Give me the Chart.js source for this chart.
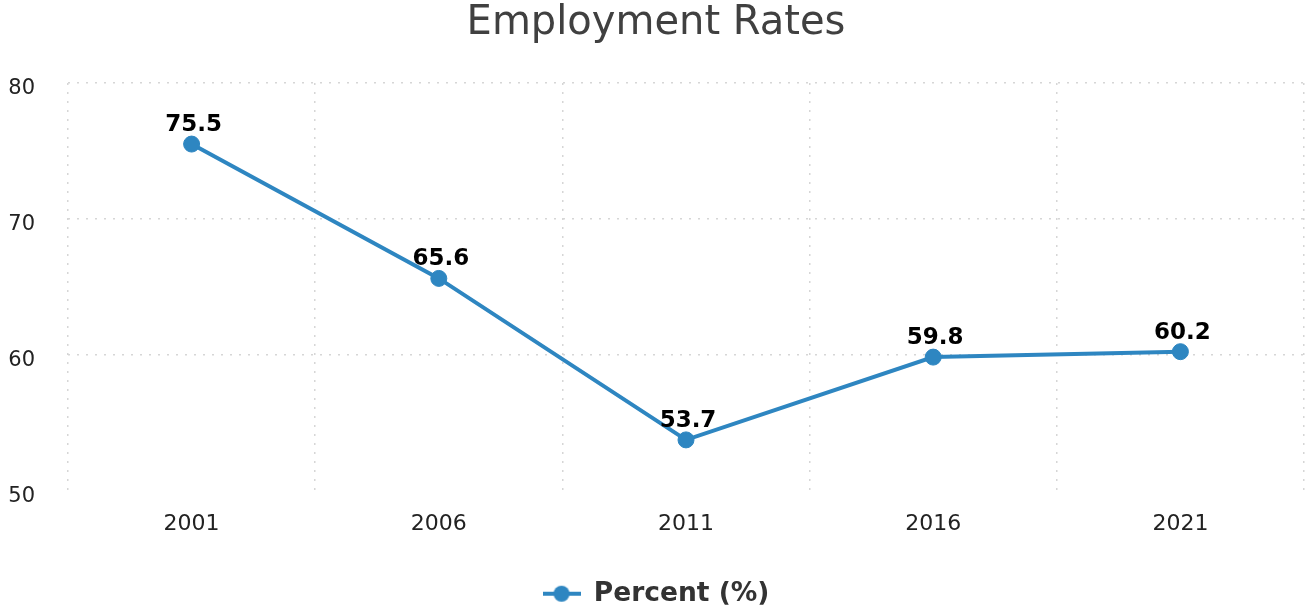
<!DOCTYPE html>
<html>
<head>
<meta charset="utf-8">
<script src="https://cdn.jsdelivr.net/npm/chart.js@4/dist/chart.umd.min.js"></script>
<style>
  html, body { margin: 0; padding: 0; background: #fff; }
  #wrap { width: 1307px; height: 607px; }
</style>
</head>
<body>
<div id="wrap"><canvas id="employmentChart"></canvas></div>
<script>
const years = ["2001", "2006", "2011", "2016", "2021"];
const percent = [75.5, 65.6, 53.7, 59.8, 60.2];
const yTicks = [50, 60, 70, 80];

const lineColor = "#2e86c1";
const fontFamily = "'DejaVu Sans', sans-serif";

// legend marker: short line with a dot on it
const marker = document.createElement("canvas");
marker.width = 38;
marker.height = 20;
const mctx = marker.getContext("2d");
mctx.strokeStyle = lineColor;
mctx.lineWidth = 4;
mctx.beginPath();
mctx.moveTo(0, 10);
mctx.lineTo(38, 10);
mctx.stroke();
mctx.fillStyle = lineColor;
mctx.beginPath();
mctx.arc(19, 10, 8, 0, Math.PI * 2);
mctx.fill();

// value labels above each point
const valueLabels = {
  id: "valueLabels",
  afterDatasetsDraw(chart) {
    const ctx = chart.ctx;
    const meta = chart.getDatasetMeta(0);
    ctx.save();
    ctx.font = "bold 23px " + fontFamily;
    ctx.fillStyle = "#000";
    ctx.textAlign = "center";
    ctx.textBaseline = "alphabetic";
    meta.data.forEach((pt, i) => {
      ctx.fillText(percent[i].toFixed(1), pt.x + 2, pt.y - 13);
    });
    ctx.restore();
  },
};

const ctx = document.getElementById("employmentChart").getContext("2d");
new Chart(ctx, {
  type: "line",
  data: {
    labels: years,
    datasets: [
      {
        label: "Percent (%)",
        data: percent,
        borderColor: lineColor,
        backgroundColor: lineColor,
        borderWidth: 4,
        pointRadius: 8,
        pointHoverRadius: 8,
        pointBorderWidth: 1,
        pointStyle: "circle",
        tension: 0,
        fill: false,
      },
    ],
  },
  options: {
    responsive: true,
    maintainAspectRatio: false,
    animation: false,
    layout: { autoPadding: false, padding: { left: 8, right: 3, top: 0, bottom: -10 } },
    plugins: {
      title: {
        display: true,
        text: "Employment Rates",
        color: "#404040",
        font: { family: fontFamily, size: 40, weight: "normal" },
        padding: { top: 0, bottom: 35 },
      },
      legend: {
        position: "bottom",
        labels: {
          color: "#333",
          font: { family: fontFamily, size: 26.5, weight: "bold" },
          usePointStyle: true,
          pointStyle: marker,
          pointStyleWidth: 38,
          padding: 4,
        },
      },
      tooltip: { enabled: false },
    },
    scales: {
      x: {
        offset: true,
        grid: {
          offset: true,
          color: "#d6d6d6",
          lineWidth: 1.5,
          drawTicks: false,
        },
        border: { display: false, dash: [2, 7] },
        ticks: {
          color: "#222",
          font: { family: fontFamily, size: 22 },
          padding: 21,
        },
        afterFit: (axis) => {
          axis.height += 18;
        },
      },
      y: {
        min: 50,
        max: 80,
        afterBuildTicks: (axis) => {
          axis.ticks = yTicks.map((v) => ({ value: v }));
        },
        afterFit: (axis) => {
          axis.width = 60;
        },
        grid: {
          color: (c) => (c.tick && c.tick.value === 50 ? "rgba(0,0,0,0)" : "#d6d6d6"),
          lineWidth: 1.5,
          drawTicks: false,
        },
        border: { display: false, dash: [2, 7] },
        ticks: {
          color: "#222",
          font: { family: fontFamily, size: 21 },
          padding: 33,
          labelOffset: 6,
        },
      },
    },
  },
  plugins: [valueLabels],
});
</script>
</body>
</html>
